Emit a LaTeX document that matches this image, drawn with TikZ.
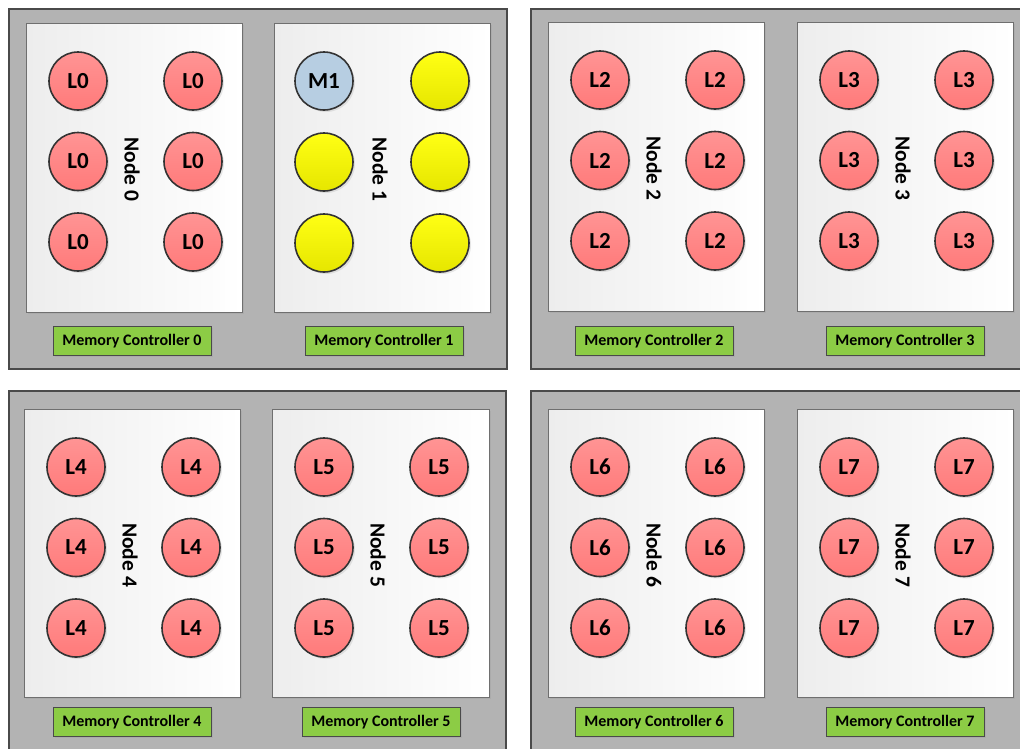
\documentclass[tikz,border=0pt]{standalone}
\usepackage{fontspec}
\setmainfont{Carlito}
\usetikzlibrary{shadows}
\definecolor{pkgfill}{HTML}{B3B3B3}
\definecolor{pkgline}{HTML}{4A4A4A}
\definecolor{panline}{HTML}{6F6F6F}
\definecolor{panleft}{HTML}{EDEDED}
\definecolor{redtop}{HTML}{FF9494}
\definecolor{redbot}{HTML}{FF7A7A}
\definecolor{yeltop}{HTML}{FFFF14}
\definecolor{yelbot}{HTML}{E6E600}
\definecolor{bluefill}{HTML}{B7CEE2}
\definecolor{ringline}{HTML}{333333}
\definecolor{mcfill}{HTML}{8CCC45}
\definecolor{mcline}{HTML}{4A4A4A}
\tikzset{
  pkg/.style={draw=pkgline, line width=1.2pt, fill=pkgfill},
  panel/.style={draw=panline, line width=1pt, left color=panleft, right color=white,
    drop shadow={shadow xshift=1.5pt, shadow yshift=-1.5pt, opacity=0.15}},
  corebase/.style={circle, minimum size=58pt, inner sep=0pt, draw=ringline, line width=1.6pt,
    font=\fontsize{23}{25}\selectfont\bfseries,
    drop shadow={shadow xshift=2pt, shadow yshift=-2pt, opacity=0.18}},
  redcore/.style={corebase, top color=redtop, bottom color=redbot},
  yelcore/.style={corebase, top color=yeltop, bottom color=yelbot},
  bluecore/.style={corebase, fill=bluefill},
  nodelabel/.style={rotate=-90, font=\fontsize{21.5}{23}\selectfont\bfseries},
  mcbox/.style={draw=mcline, line width=1pt, fill=mcfill, minimum width=158pt, minimum height=29pt,
    inner sep=0pt, font=\fontsize{16}{18}\selectfont\bfseries,
    drop shadow={shadow xshift=1.5pt, shadow yshift=-1.5pt, opacity=0.15}}
}
\begin{document}
\begin{tikzpicture}[x=1pt, y=-1pt]
\useasboundingbox (0,0) rectangle (1020,748);
\clip (0,0) rectangle (1020,748);
\fill[white] (0,0) rectangle (1020,748);
% packages
\draw[pkg] (9,9) rectangle (507,369);
\draw[pkg] (531,9) rectangle (1040,369);
\draw[pkg] (9,391) rectangle (506,770);
\draw[pkg] (531,391) rectangle (1040,770);
% panels: index/left/top/right/bottom
\foreach \i/\l/\t/\r/\b in {0/26/23/242/312, 1/274/23/490/312, 2/548/22/764/311, 3/797/22/1013/311,
                            4/24/409/240/697, 5/272/409/489/697, 6/548/409/764/697, 7/797/409/1013/697}{
  \draw[panel] (\l,\t) rectangle (\r,\b);
  \node[nodelabel] (lab\i) at ({\l+106},{(\t+\b)/2+2}) {Node \i};
}
% cores
\foreach \i/\l/\t in {0/26/23, 2/548/22, 3/797/22, 4/24/409, 5/272/409, 6/548/409, 7/797/409}{
  \foreach \rr in {0,1,2}{
    \node[redcore] (c\i a\rr) at ({\l+52},{\t+58+80.5*\rr}) {L\i};
    \node[redcore] (c\i b\rr) at ({\l+167},{\t+58+80.5*\rr}) {L\i};
  }
}
\node[bluecore] (c1a0) at (324,81) {M1};
\node[yelcore] (c1b0) at (440,81) {};
\node[yelcore] (c1a1) at (324,162) {};
\node[yelcore] (c1b1) at (440,162) {};
\node[yelcore] (c1a2) at (324,243) {};
\node[yelcore] (c1b2) at (440,243) {};
% memory controllers
\foreach \i/\x/\y in {0/132/341, 1/384/341, 2/654/341, 3/905/341, 4/132/722, 5/381/722, 6/654/722, 7/905/722}{
  \node[mcbox] (mc\i) at (\x,\y) {Memory Controller \i};
}
\end{tikzpicture}
\end{document}
